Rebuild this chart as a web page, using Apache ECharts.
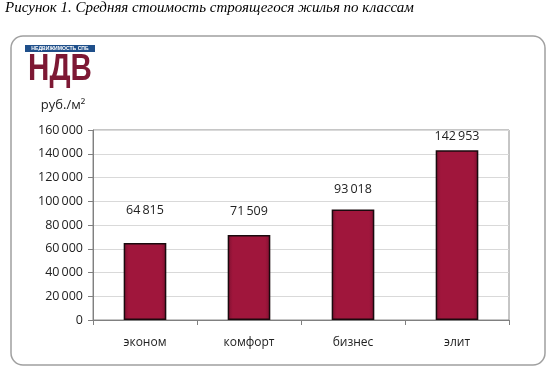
<!DOCTYPE html>
<html><head><meta charset="utf-8">
<script src="https://cdn.jsdelivr.net/npm/echarts@6/dist/echarts.min.js"></script>
<style>html,body{margin:0;padding:0;background:#fff}#c{width:556px;height:374px}</style>
</head><body><div id="c"></div>
<script>
const categories = ['эконом', 'комфорт', 'бизнес', 'элит'];
const values = [64815, 71509, 93018, 142953];
const yTicks = [0, 20000, 40000, 60000, 80000, 100000, 120000, 140000, 160000];
const titleText = 'Рисунок 1. Средняя стоимость строящегося жилья по классам';
const unitText = 'руб./м²';
// label gap above each bar (style only)
const labelGaps = [26, 17, 14, 7];

function fmt(v){ return String(v).replace(/\B(?=(\d{3})+(?!\d))/g, '\u2009'); }

const chart = echarts.init(document.getElementById('c'), null, {renderer:'canvas'});
chart.setOption({
  animation:false,
  backgroundColor:'#fff',
  graphic:[
    {type:'text', left:5, top:1, style:{text:titleText, font:'italic 15px "Liberation Serif"', fill:'#000'}},
    {type:'rect', shape:{x:11, y:36, width:534, height:329, r:12}, style:{fill:'none', stroke:'#a0a0a0', lineWidth:1.5}, z:-1},
    {type:'rect', shape:{x:25, y:45, width:70, height:7}, style:{fill:'#1f4f8a'}},
    {type:'text', x:60, y:48.7, scaleX:0.85, originX:0, originY:0, style:{text:'НЕДВИЖИМОСТЬ СПБ', font:'bold 6px "Liberation Sans"', fill:'#fff', align:'center', verticalAlign:'middle'}},
    {type:'text', x:60, y:70, scaleX:0.8, originX:0, originY:0, style:{text:'НДВ', font:'bold 37px "Liberation Sans"', fill:'#7d1834', align:'center', verticalAlign:'middle'}},
    {type:'text', x:63, y:105, style:{text:unitText, font:'13px "Open Sans"', fill:'#222', align:'center', verticalAlign:'middle'}}
  ],
  grid:{left:93, right:47, top:130, bottom:54, show:true, borderColor:'#8c8c8c', borderWidth:1},
  xAxis:{
    type:'category', data:categories,
    axisLine:{lineStyle:{color:'#808080', width:1}},
    axisTick:{show:true, alignWithLabel:false, length:5, lineStyle:{color:'#808080'}},
    axisLabel:{margin:17, fontSize:12, fontFamily:'Open Sans', color:'#222'}
  },
  yAxis:{
    type:'value', min:yTicks[0], max:yTicks[yTicks.length-1], interval:yTicks[1]-yTicks[0],
    axisLine:{show:true, lineStyle:{color:'#808080'}},
    axisTick:{show:true, length:5, lineStyle:{color:'#808080'}},
    splitLine:{lineStyle:{color:'#d9d9d9'}},
    axisLabel:{margin:10, fontSize:12.5, fontFamily:'Open Sans', color:'#222', formatter:fmt}
  },
  series:[{
    type:'bar', barWidth:'41%',
    data:values.map((v,i)=>({value:v, label:{distance:labelGaps[i]}})),
    itemStyle:{
      color:new echarts.graphic.LinearGradient(0,0,1,0,[
        {offset:0, color:'#7e1030'},{offset:0.12, color:'#a0163c'},{offset:0.88, color:'#a0163c'},{offset:1, color:'#7e1030'}]),
      borderColor:'#1a0a0e', borderWidth:1.5
    },
    label:{show:true, position:'top', fontSize:12.5, fontFamily:'Open Sans', color:'#222', formatter:p=>fmt(p.value)}
  }]
});
</script></body></html>
